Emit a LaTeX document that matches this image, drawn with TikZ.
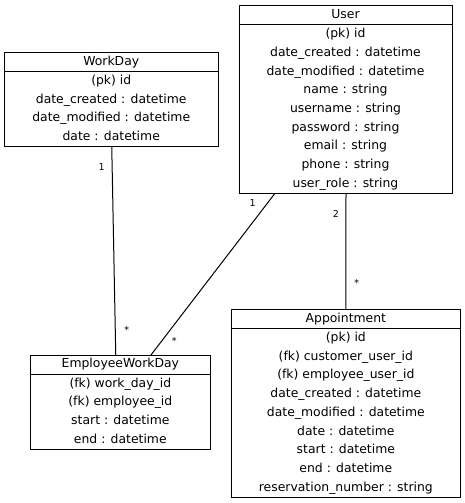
\documentclass[tikz,border=0pt]{standalone}
\usepackage{fontspec}
\setmainfont{DejaVu Sans}
\tikzset{
  ebox/.style={draw=black, line width=1pt, inner sep=0pt, outer sep=0pt, anchor=north west},
  etitle/.style={font=\fontsize{12.4}{14}\selectfont, anchor=base, inner sep=0pt},
  erow/.style={font=\fontsize{12.4}{14}\selectfont, anchor=base, inner sep=0pt},
  mult/.style={font=\fontsize{9.5}{11}\selectfont, anchor=base, inner sep=0pt},
  conn/.style={draw=black, line width=1pt}
}
\newcommand\drawentity[7]{%
  \node[ebox, minimum width=#4pt, minimum height={19.3pt+#5*18.7pt}] (#1) at (#2,#3) {};
  \draw[line width=1pt] ([yshift=-19.3pt]#1.north west) -- ([yshift=-19.3pt]#1.north east);
  \node[etitle] (#1-title) at ([yshift=-12.8pt]#1.north) {#6};
  \foreach \rowtext [count=\k from 0] in {#7} {%
    \node[erow] (#1-row\k) at ([yshift={-19.3pt-12.7pt-\k*18.7pt}]#1.north) {\rowtext};
  }%
}
\begin{document}
\begin{tikzpicture}[x=1pt, y=-1pt]
\useasboundingbox (0,0) rectangle (465,503);
\drawentity{workday}{4.5}{52.5}{213.5}{4}{WorkDay}{(pk) id, date\_created : datetime, date\_modified : datetime, date : datetime}
\drawentity{user}{239}{5.7}{213}{9}{User}{(pk) id, date\_created : datetime, date\_modified : datetime, name : string, username : string, password : string, email : string, phone : string, user\_role : string}
\drawentity{appt}{231}{309.5}{229.7}{9}{Appointment}{(pk) id, (fk) customer\_user\_id, (fk) employee\_user\_id, date\_created : datetime, date\_modified : datetime, date : datetime, start : datetime, end : datetime, reservation\_number : string}
\drawentity{ewd}{30}{355}{180.7}{4}{EmployeeWorkDay}{(fk) work\_day\_id, (fk) employee\_id, start : datetime, end : datetime}

\draw[conn] ([xshift=0.5pt]workday.south) -- ([xshift=-4.6pt]ewd.north);
\draw[conn] ([xshift=-70.5pt]user.south) -- ([xshift=30.6pt]ewd.north);
\draw[conn] ([xshift=0.5pt]user.south) -- (appt.north);

\node[mult] (m1) at (101.7,170.2) {1};
\node[mult] (m2) at (126.7,333.3) {*};
\node[mult] (m3) at (252.7,206.8) {1};
\node[mult] (m4) at (174.3,344.6) {*};
\node[mult] (m5) at (336,217.5) {2};
\node[mult] (m6) at (356.7,286.6) {*};
\end{tikzpicture}
\end{document}
